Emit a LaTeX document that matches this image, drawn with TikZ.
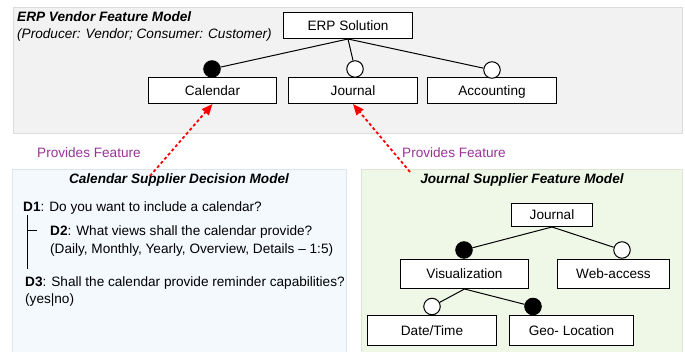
\documentclass[tikz,border=0pt]{standalone}
\usepackage{fontspec}
\setmainfont{Liberation Sans}
\usetikzlibrary{arrows.meta}
\definecolor{panelgray}{HTML}{F2F2F2}
\definecolor{panelgrayline}{HTML}{DCDCDC}
\definecolor{panelblue}{HTML}{F4F9FE}
\definecolor{panelblueline}{HTML}{DCE5EC}
\definecolor{panelgreen}{HTML}{EFF8E6}
\definecolor{panelgreenline}{HTML}{DCE6D2}
\definecolor{provpurple}{HTML}{993399}
\begin{document}
\begin{tikzpicture}[x=1pt,y=-1pt,
  every node/.style={font=\fontsize{13.6}{15}\selectfont, inner sep=0pt},
  feat/.style={draw=black, line width=1pt, fill=white, minimum height=26pt, text height=9.8pt, text depth=0pt, anchor=north west},
  conn/.style={line width=1pt, draw=black},
  mand/.style={circle, draw=black, line width=1pt, fill=black, minimum size=16.5pt},
  opt/.style={circle, draw=black, line width=1pt, fill=white, minimum size=16.5pt},
  provides/.style={draw=red, line width=1.8pt, dash pattern=on 3pt off 2.5pt, -{Triangle[length=11pt,width=9pt]}},
  provlabel/.style={text=provpurple, anchor=base west},
  title/.style={font=\fontsize{13.6}{15}\selectfont\bfseries\itshape, anchor=base},
  txt/.style={anchor=base west}
]
\useasboundingbox (0,0) rectangle (685,352);
% panels
\fill[panelgray, draw=panelgrayline, line width=0.8pt] (13,7) rectangle (682,133);
\fill[panelblue, draw=panelblueline, line width=0.8pt] (12,169) rectangle (346,354);
\fill[panelgreen, draw=panelgreenline, line width=0.8pt] (361,169) rectangle (682,354);

% top titles
\node[title, anchor=base west] (erptitle) at (17,22) {ERP Vendor Feature Model};
\node[txt, font=\fontsize{13.6}{15}\selectfont\itshape] (erpsub) at (17,39) {(Producer: Vendor; Consumer: Customer)};

% ERP feature model
\node[feat, minimum width=129pt] (erp) at (283,12) {ERP Solution};
\node[feat, minimum width=128pt] (cal) at (148,77) {Calendar};
\node[feat, minimum width=129pt] (jour) at (288,77) {Journal};
\node[feat, minimum width=129pt] (acc) at (427,77) {Accounting};
\node[mand] (calc) at (212,69) {};
\node[opt] (jourc) at (355,69) {};
\node[opt] (accc) at (492,70) {};
\draw[conn] (erp.south) -- (calc);
\draw[conn] (erp.south) -- (jourc);
\draw[conn] (erp.south) -- (accc);

% provides
\coordinate (p1) at (150,176);
\coordinate (p2) at (410,172);
\draw[provides] (p1) -- (cal.south);
\draw[provides] (p2) -- (jour.south);
\node[provlabel] (pl1) at (37,158) {Provides Feature};
\node[provlabel] (pl2) at (402,158) {Provides Feature};

% calendar decision model
\node[title] (dmtitle) at (179,184) {Calendar Supplier Decision Model};
\node[txt] (d1) at (23,212) {\textbf{D1}: Do you want to include a calendar?};
\node[txt] (d2) at (50,236) {\textbf{D2}: What views shall the calendar provide?};
\node[txt] (d2b) at (50,254) {(Daily, Monthly, Yearly, Overview, Details -- 1:5)};
\node[txt] (d3) at (25,287) {\textbf{D3}: Shall the calendar provide reminder capabilities?};
\node[txt] (d3b) at (25,304) {(yes|no)};
\coordinate (tv1) at (27,215);
\coordinate (tv2) at (27,269);
\coordinate (th1) at (27,230);
\coordinate (th2) at (37,230);
\draw[line width=0.6pt] (tv1) -- (tv2);
\draw[line width=0.6pt] (th1) -- (th2);

% journal supplier feature model
\node[title] (jmtitle) at (522,184) {Journal Supplier Feature Model};
\node[feat, minimum width=81pt, minimum height=23pt] (j) at (511,203) {Journal};
\node[feat, minimum width=128pt, minimum height=29pt] (vis) at (400,259) {Visualization};
\node[feat, minimum width=112pt, minimum height=29pt] (web) at (557,259) {Web-access};
\node[feat, minimum width=129pt, minimum height=30pt] (dt) at (367,315) {Date/Time};
\node[feat, minimum width=124pt, minimum height=30pt] (geo) at (509,315) {Geo- Location};
\node[mand] (visc) at (464,250) {};
\node[opt] (webc) at (622,250) {};
\node[opt] (dtc) at (432,306.5) {};
\node[mand] (geoc) at (533,306.5) {};
\draw[conn] (j.south) -- (visc);
\draw[conn] (j.south) -- (webc);
\draw[conn] (vis.south) -- (dtc);
\draw[conn] (vis.south) -- (geoc);
\end{tikzpicture}
\end{document}
